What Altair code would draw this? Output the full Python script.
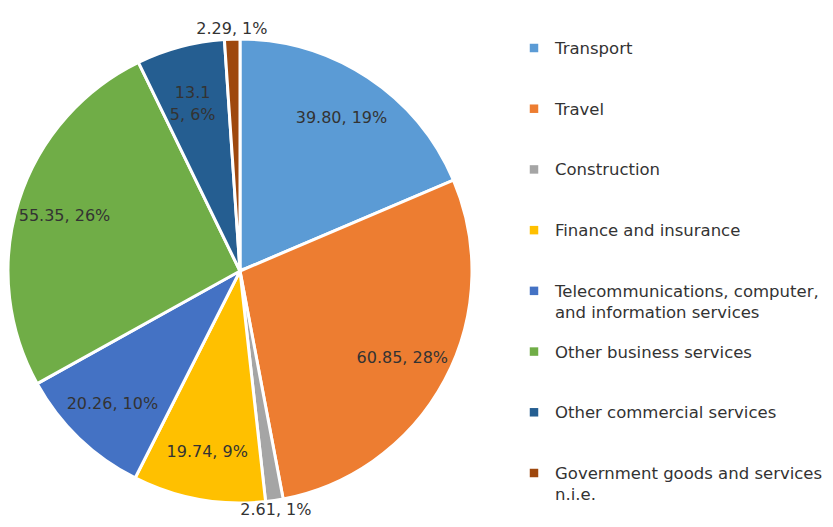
import altair as alt
import pandas as pd

categories = [
    "Transport",
    "Travel",
    "Construction",
    "Finance and insurance",
    "Telecommunications, computer,\nand information services",
    "Other business services",
    "Other commercial services",
    "Government goods and services\nn.i.e.",
]
values = [39.80, 60.85, 2.61, 19.74, 20.26, 55.35, 13.15, 2.29]
percents = [19, 28, 1, 9, 10, 26, 6, 1]
colors = ["#5B9BD5", "#ED7D31", "#A5A5A5", "#FFC000", "#4472C4", "#70AD47", "#255E91", "#9E480E"]

labels = []
for v, p in zip(values, percents):
    s = f"{v:.2f}, {p}%"
    labels.append(s)
# the label of "Other commercial services" wraps inside its narrow slice in the original
labels[6] = labels[6][:4] + "\n" + labels[6][4:]

df = pd.DataFrame({
    "idx": list(range(len(categories))),
    "cat": categories,
    "value": values,
    "label": labels,
})
total = float(sum(values))

FONT = "DejaVu Sans"
TXT = "#333333"
cx, cy = 232, 263

color = alt.Color("cat:N", scale=alt.Scale(domain=categories, range=colors), legend=None)
tscale = alt.Scale(domain=[0, total])
order = alt.Order("idx:Q")

base = alt.Chart(df)

pie = base.mark_arc(outerRadius=232, stroke="white", strokeWidth=3).encode(
    theta=alt.Theta("value:Q", stack=True, scale=tscale), order=order, color=color,
    x=alt.value(cx), y=alt.value(cy),
)

stacked = base.transform_stack(
    stack="value", as_=["v0", "v1"], groupby=[],
    sort=[alt.SortField("idx", order="ascending")],
).transform_calculate(mid="(datum.v0 + datum.v1) / 2")


def label_layer(cond, r):
    return stacked.transform_filter(cond).mark_text(
        font=FONT, fontSize=16, color=TXT, lineBreak="\n", lineHeight=22,
        baseline="middle", radius=r,
    ).encode(
        theta=alt.Theta("mid:Q", stack=False, scale=tscale),
        text="label:N",
        x=alt.value(cx), y=alt.value(cy),
    )


inner_text = label_layer("datum.value / %f >= 0.02" % total, 184)
outer_text = label_layer("datum.value / %f < 0.02" % total, 242)

ly = alt.Y("cat:N", sort=categories, axis=None,
           scale=alt.Scale(type="point", range=[40, 465], padding=0))

leg_sym = base.mark_square(size=72, opacity=1).encode(
    x=alt.value(526), y=ly, color=color,
)
leg_txt = base.mark_text(font=FONT, fontSize=16.5, color=TXT, align="left", baseline="alphabetic",
                         dy=6, lineBreak="\n", lineHeight=21).encode(
    x=alt.value(547), y=ly, text="cat:N",
)

chart = alt.layer(pie, inner_text, outer_text, leg_sym, leg_txt).properties(
    width=817, height=511, padding=0, autosize="none",
).configure_view(stroke=None)

chart.save("out.html", embed_options={"renderer": "svg", "actions": False})
